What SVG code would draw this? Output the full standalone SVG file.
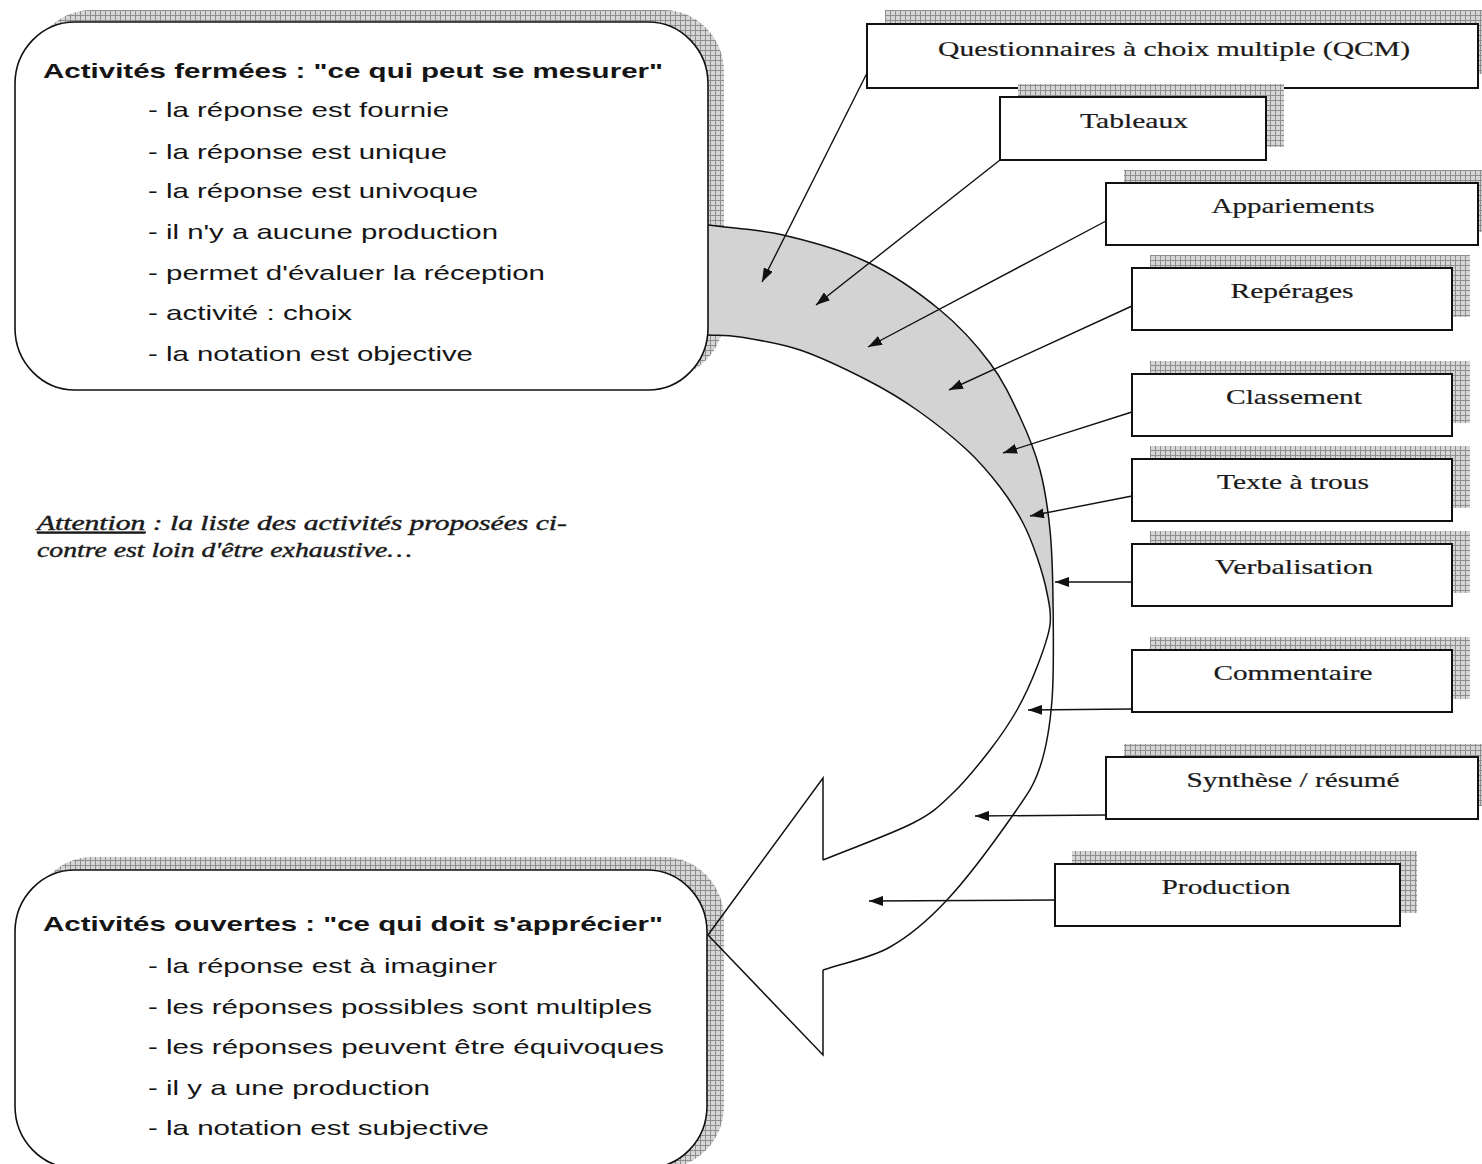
<svg xmlns="http://www.w3.org/2000/svg" width="1482" height="1164" viewBox="0 0 1482 1164">
<style>
.sans{font-family:"Liberation Sans",Arial,sans-serif;font-size:20px;fill:#151515}
.title{font-weight:bold}
.serif{font-family:"Liberation Serif","Times New Roman",serif;font-size:22px;fill:#1a1a1a;stroke:#1a1a1a;stroke-width:0.2;text-anchor:middle}
.note{font-family:"Liberation Serif","Times New Roman",serif;font-size:20px;font-style:italic;fill:#1a1a1a;stroke:#1a1a1a;stroke-width:0.4}
.shadow{fill:url(#grid)}
.rbox{fill:#fff;stroke:#111;stroke-width:2}
.cbox{fill:#fff;stroke:#111;stroke-width:1.6}
.edge{fill:none;stroke:#111;stroke-width:1.5}
.conn{fill:none;stroke:#111;stroke-width:1.4;marker-end:url(#ah)}
</style>
<defs>
<pattern id="grid" width="5" height="5" patternUnits="userSpaceOnUse">
<rect width="5" height="5" fill="#d6d6d6"/>
<path d="M0,0.5H5M0.5,0V5" stroke="#8e8e8e" stroke-width="1"/>
</pattern>
<marker id="ah" viewBox="0 0 14 10" refX="14" refY="5" markerWidth="14" markerHeight="10" markerUnits="userSpaceOnUse" orient="auto">
<path d="M0,0L14,5L0,10Z" fill="#111"/>
</marker>
</defs>
<rect width="1482" height="1164" fill="#fff"/>

<g id="box-fermees">
<rect class="shadow" x="31" y="10" width="693" height="368" rx="60" ry="62"/>
<rect class="cbox" x="15" y="22" width="693" height="368" rx="60" ry="62"/>
<text class="sans title" transform="translate(43,78) scale(1.45,1)" textLength="427.6" lengthAdjust="spacingAndGlyphs">Activités fermées : "ce qui peut se mesurer"</text>
<text class="sans" transform="translate(148,117) scale(1.45,1)" textLength="207.6" lengthAdjust="spacingAndGlyphs">- la réponse est fournie</text>
<text class="sans" transform="translate(148,159) scale(1.45,1)" textLength="206.2" lengthAdjust="spacingAndGlyphs">- la réponse est unique</text>
<text class="sans" transform="translate(148,198) scale(1.45,1)" textLength="227.6" lengthAdjust="spacingAndGlyphs">- la réponse est univoque</text>
<text class="sans" transform="translate(148,239) scale(1.45,1)" textLength="241.4" lengthAdjust="spacingAndGlyphs">- il n'y a aucune production</text>
<text class="sans" transform="translate(148,280) scale(1.45,1)" textLength="273.8" lengthAdjust="spacingAndGlyphs">- permet d'évaluer la réception</text>
<text class="sans" transform="translate(148,320) scale(1.45,1)" textLength="140.7" lengthAdjust="spacingAndGlyphs">- activité : choix</text>
<text class="sans" transform="translate(148,361) scale(1.45,1)" textLength="224.1" lengthAdjust="spacingAndGlyphs">- la notation est objective</text>
</g>

<g id="box-ouvertes">
<rect class="shadow" x="32" y="857" width="692" height="311" rx="60" ry="62"/>
<rect class="cbox" x="15" y="870" width="692" height="298" rx="60" ry="62"/>
<text class="sans title" transform="translate(43,931) scale(1.45,1)" textLength="427.6" lengthAdjust="spacingAndGlyphs">Activités ouvertes : "ce qui doit s'apprécier"</text>
<text class="sans" transform="translate(148,973) scale(1.45,1)" textLength="240.7" lengthAdjust="spacingAndGlyphs">- la réponse est à imaginer</text>
<text class="sans" transform="translate(148,1014) scale(1.45,1)" textLength="347.6" lengthAdjust="spacingAndGlyphs">- les réponses possibles sont multiples</text>
<text class="sans" transform="translate(148,1054) scale(1.45,1)" textLength="355.9" lengthAdjust="spacingAndGlyphs">- les réponses peuvent être équivoques</text>
<text class="sans" transform="translate(148,1095) scale(1.45,1)" textLength="194.5" lengthAdjust="spacingAndGlyphs">- il y a une production</text>
<text class="sans" transform="translate(148,1135) scale(1.45,1)" textLength="235.2" lengthAdjust="spacingAndGlyphs">- la notation est subjective</text>
</g>

<g id="note">
<text class="note" transform="translate(37,530) scale(1.38,1)" textLength="384" lengthAdjust="spacingAndGlyphs"><tspan text-decoration="underline">Attention</tspan> : la liste des activités proposées ci-</text>
<text class="note" transform="translate(37,557) scale(1.38,1)" textLength="271.7" lengthAdjust="spacingAndGlyphs">contre est loin d'être exhaustive…</text>
</g>

<g id="n-qcm">
<rect class="shadow" x="885" y="10" width="611" height="64"/>
<rect class="rbox" x="867" y="24" width="611" height="64"/>
<text class="serif" transform="translate(1174,56) scale(1.33,1)" textLength="354.9" lengthAdjust="spacingAndGlyphs">Questionnaires à choix multiple (QCM)</text>
</g>
<g id="n-tableaux">
<rect class="shadow" x="1018" y="84" width="266" height="63"/>
<rect class="rbox" x="1000" y="97" width="266" height="63"/>
<text class="serif" transform="translate(1134,128) scale(1.33,1)" textLength="81.2" lengthAdjust="spacingAndGlyphs">Tableaux</text>
</g>
<g id="n-appariements">
<rect class="shadow" x="1124" y="170" width="372" height="62"/>
<rect class="rbox" x="1106" y="183" width="372" height="62"/>
<text class="serif" transform="translate(1293,213) scale(1.33,1)" textLength="122.6" lengthAdjust="spacingAndGlyphs">Appariements</text>
</g>
<g id="n-reperages">
<rect class="shadow" x="1150" y="255" width="320" height="62"/>
<rect class="rbox" x="1132" y="268" width="320" height="62"/>
<text class="serif" transform="translate(1292,298) scale(1.33,1)" textLength="92.5" lengthAdjust="spacingAndGlyphs">Repérages</text>
</g>
<g id="n-classement">
<rect class="shadow" x="1150" y="361" width="320" height="62"/>
<rect class="rbox" x="1132" y="374" width="320" height="62"/>
<text class="serif" transform="translate(1294,404) scale(1.33,1)" textLength="102.3" lengthAdjust="spacingAndGlyphs">Classement</text>
</g>
<g id="n-texte">
<rect class="shadow" x="1150" y="446" width="320" height="62"/>
<rect class="rbox" x="1132" y="459" width="320" height="62"/>
<text class="serif" transform="translate(1293,489) scale(1.33,1)" textLength="114.3" lengthAdjust="spacingAndGlyphs">Texte à trous</text>
</g>
<g id="n-verbalisation">
<rect class="shadow" x="1150" y="531" width="320" height="62"/>
<rect class="rbox" x="1132" y="544" width="320" height="62"/>
<text class="serif" transform="translate(1294,574) scale(1.33,1)" textLength="118.8" lengthAdjust="spacingAndGlyphs">Verbalisation</text>
</g>
<g id="n-commentaire">
<rect class="shadow" x="1150" y="637" width="320" height="62"/>
<rect class="rbox" x="1132" y="650" width="320" height="62"/>
<text class="serif" transform="translate(1293,680) scale(1.33,1)" textLength="119.5" lengthAdjust="spacingAndGlyphs">Commentaire</text>
</g>
<g id="n-synthese">
<rect class="shadow" x="1124" y="744" width="372" height="62"/>
<rect class="rbox" x="1106" y="757" width="372" height="62"/>
<text class="serif" transform="translate(1293,787) scale(1.33,1)" textLength="160.2" lengthAdjust="spacingAndGlyphs">Synthèse / résumé</text>
</g>
<g id="n-production">
<rect class="shadow" x="1072" y="851" width="345" height="62"/>
<rect class="rbox" x="1055" y="864" width="345" height="62"/>
<text class="serif" transform="translate(1226,894) scale(1.33,1)" textLength="97" lengthAdjust="spacingAndGlyphs">Production</text>
</g>

<g id="ribbon">
<path fill="#d3d3d3" d="M709,225 C733,228.33 756.5,228.83 783,235 C809.5,241.17 840.83,249.5 867,262 C893.17,274.5 919.5,293.17 940,310 C960.5,326.83 976.67,345.17 990,363 C1003.33,380.83 1011.67,399.17 1020,417 C1028.33,434.83 1035,451.17 1040,470 C1045,488.83 1047.83,508.33 1050,530 C1052.17,551.67 1052.67,571.67 1053,600 L1050,625 C1051.67,612.67 1049.17,604.33 1047,593 C1044.83,581.67 1041,568.67 1037,557 C1033,545.33 1029.17,534.67 1023,523 C1016.83,511.33 1009.33,499.17 1000,487 C990.67,474.83 980.83,462.83 967,450 C953.17,437.17 933.67,421.67 917,410 C900.33,398.33 886.5,390 867,380 C847.5,370 821.17,357.17 800,350 C778.83,342.83 755.33,339.5 740,337 C724.67,334.5 718.67,335.67 709,335 Z"/>
<path class="edge" d="M708,225 C733,228.33 756.5,228.83 783,235 C809.5,241.17 840.83,249.5 867,262 C893.17,274.5 919.5,293.17 940,310 C960.5,326.83 976.67,345.17 990,363 C1003.33,380.83 1011.67,399.17 1020,417 C1028.33,434.83 1035,451.17 1040,470 C1045,488.83 1047.83,508.33 1050,530 C1052.17,551.67 1052.67,571.67 1053,600 C1053.33,628.33 1054.17,672.17 1052,700 C1049.83,727.83 1046.5,747.83 1040,767 C1033.5,786.17 1028.5,792.83 1013,815 C997.5,837.17 967.5,878 947,900 C926.5,922 910.67,935.33 890,947 C869.33,958.67 845.33,962.33 823,970"/>
<path class="edge" d="M708,335 C718.67,335.67 724.67,334.5 740,337 C755.33,339.5 778.83,342.83 800,350 C821.17,357.17 847.5,370 867,380 C886.5,390 900.33,398.33 917,410 C933.67,421.67 953.17,437.17 967,450 C980.83,462.83 990.67,474.83 1000,487 C1009.33,499.17 1016.83,511.33 1023,523 C1029.17,534.67 1033,545.33 1037,557 C1041,568.67 1044.83,581.67 1047,593 C1049.17,604.33 1051.67,612.67 1050,625 C1048.33,637.33 1042.5,652.83 1037,667 C1031.5,681.17 1024.83,696.17 1017,710 C1009.17,723.83 1000.67,736.17 990,750 C979.33,763.83 965.83,780.83 953,793 C940.17,805.17 934.67,811.83 913,823 C891.33,834.17 853,847.67 823,860"/>
<path class="edge" d="M823,970 L823,1055 L708,935 L823,778 L823,860"/>
</g>

<g id="connectors">
<path class="conn" d="M867,73 L762,282"/>
<path class="conn" d="M1000,160 L816,305"/>
<path class="conn" d="M1106,221 L868,347"/>
<path class="conn" d="M1132,306 L949,390"/>
<path class="conn" d="M1132,412 L1003,453"/>
<path class="conn" d="M1132,496 L1030,516"/>
<path class="conn" d="M1132,582 L1055,582"/>
<path class="conn" d="M1132,709 L1028,710"/>
<path class="conn" d="M1106,815 L975,816"/>
<path class="conn" d="M1055,900 L869,901"/>
</g>
</svg>
